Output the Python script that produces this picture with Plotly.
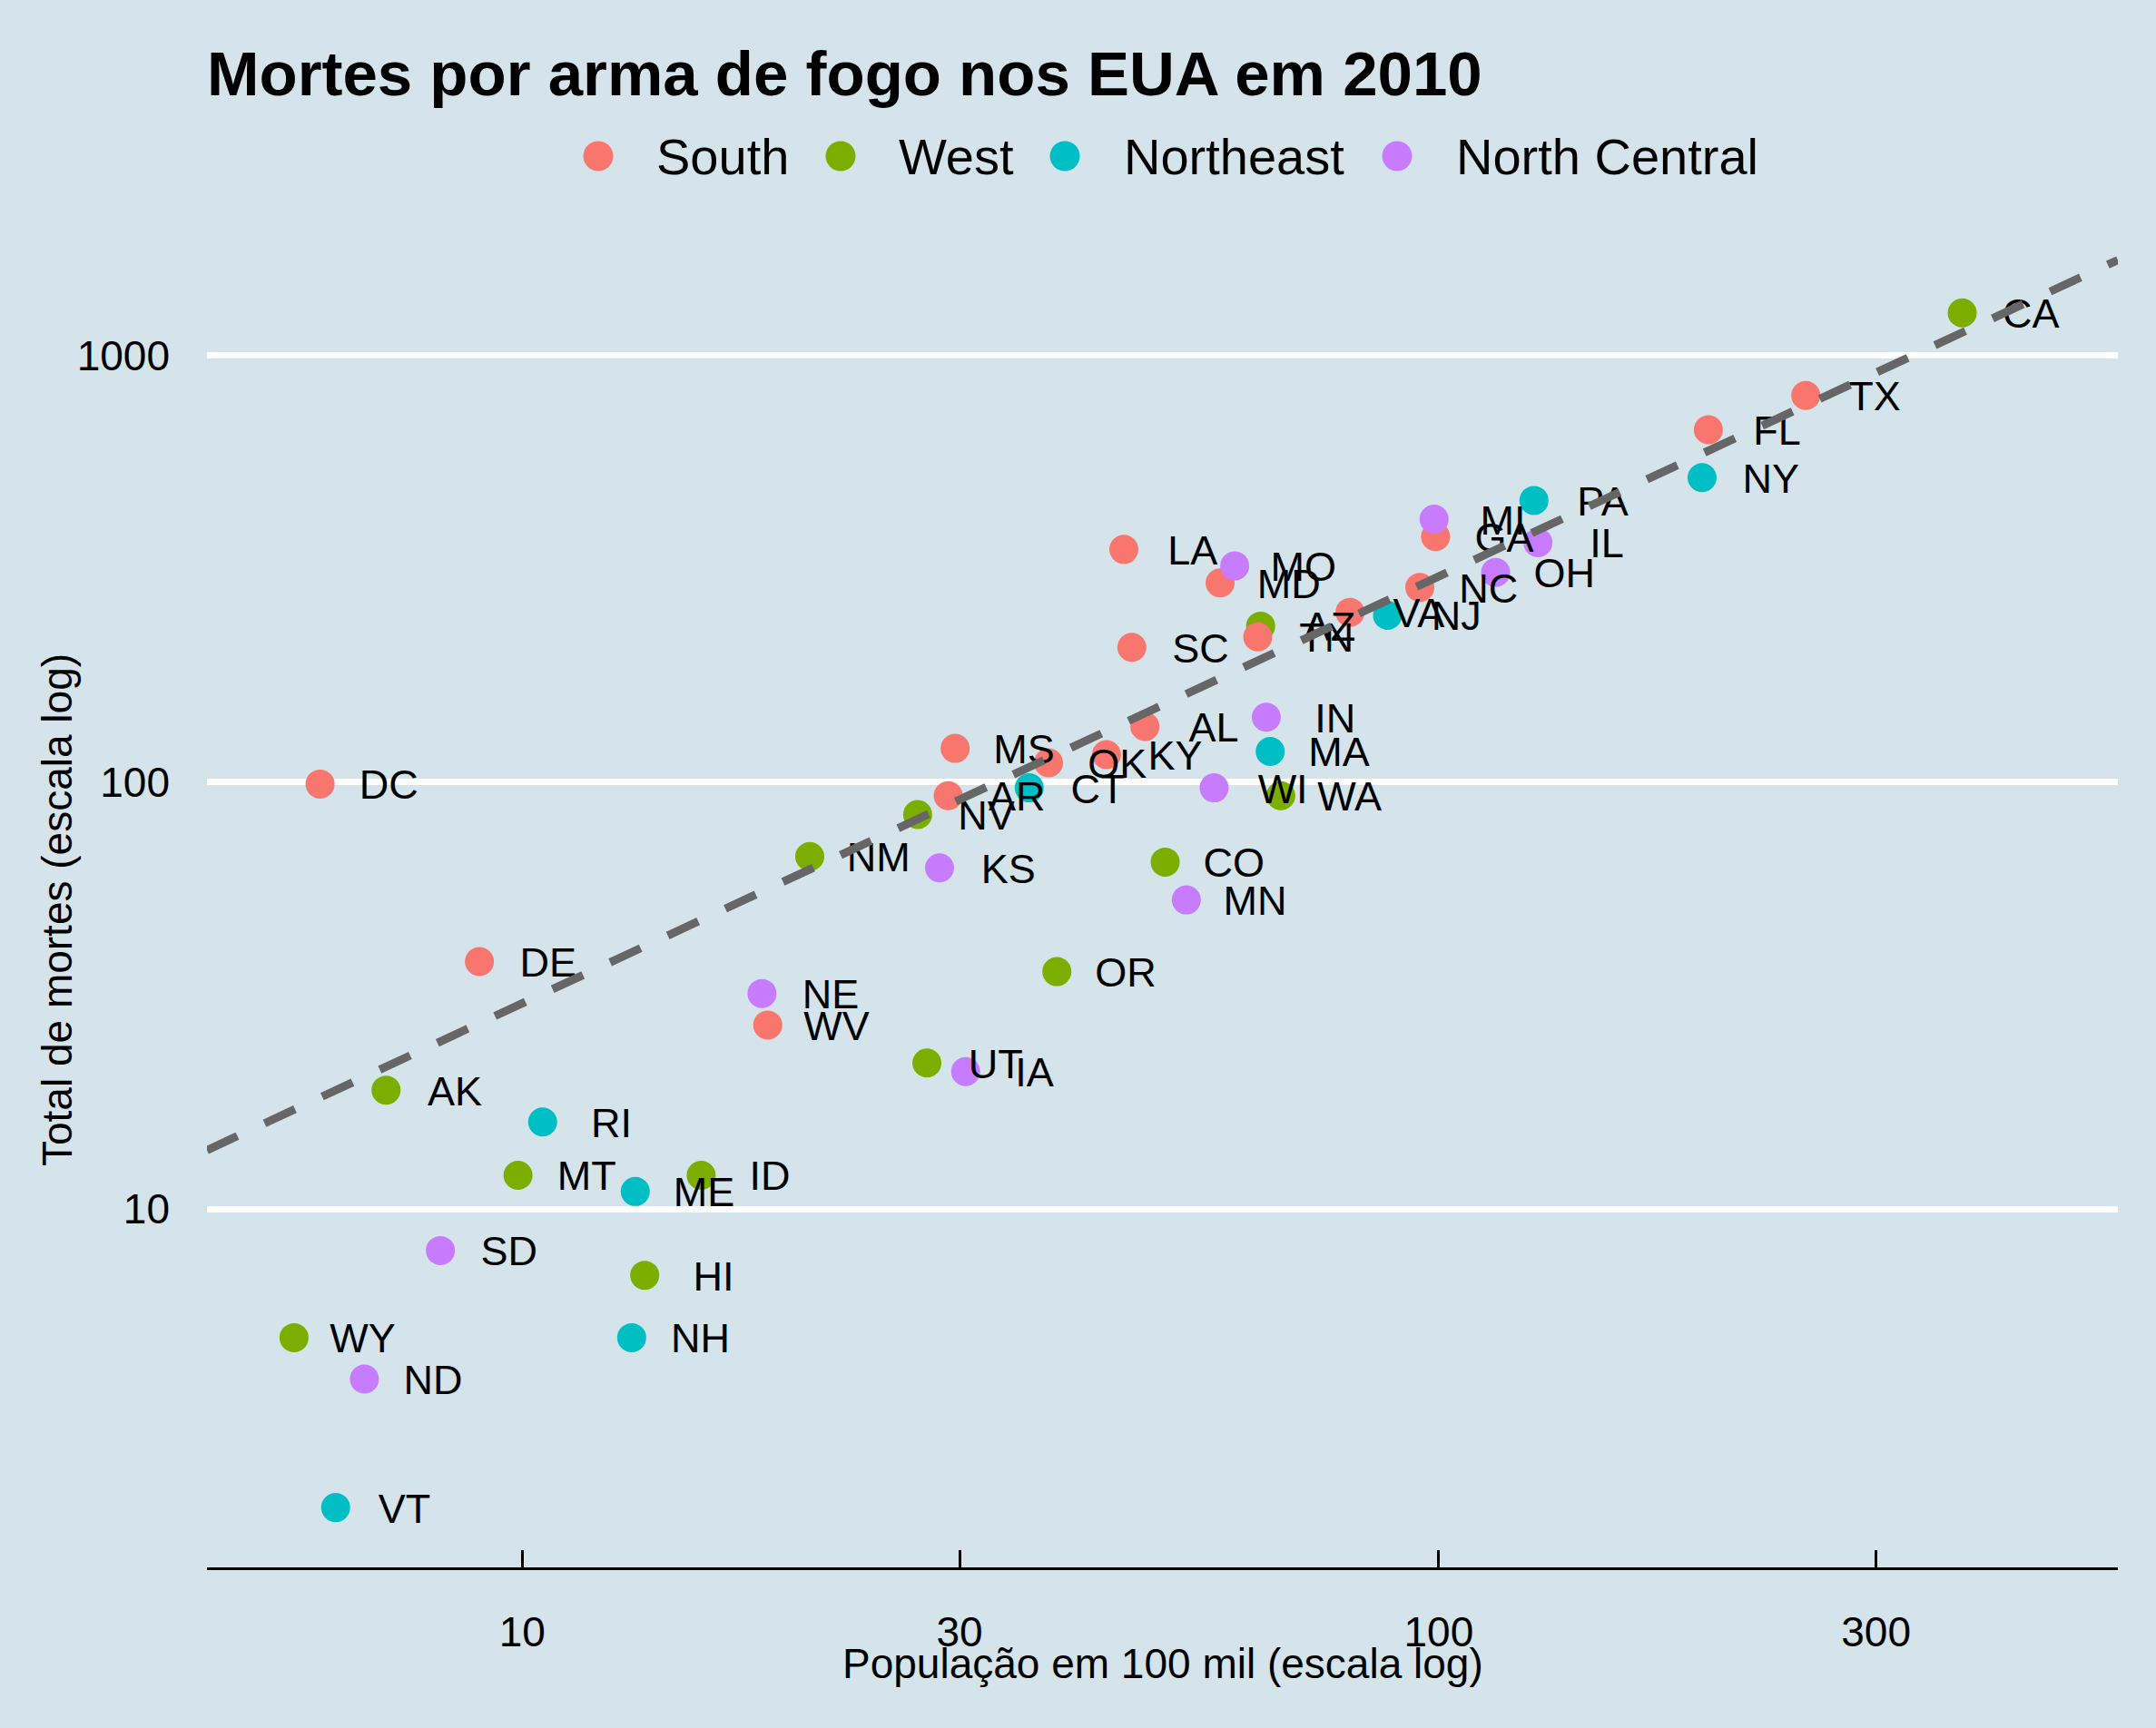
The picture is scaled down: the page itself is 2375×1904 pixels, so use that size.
import numpy as np
import plotly.graph_objects as go

# murders 2010 (dslabs), alphabetical by state
abb = ['AL', 'AK', 'AZ', 'AR', 'CA', 'CO', 'CT', 'DE', 'DC', 'FL', 'GA', 'HI', 'ID',
       'IL', 'IN', 'IA', 'KS', 'KY', 'LA', 'ME', 'MD', 'MA', 'MI', 'MN', 'MS', 'MO',
       'MT', 'NE', 'NV', 'NH', 'NJ', 'NM', 'NY', 'NC', 'ND', 'OH', 'OK', 'OR', 'PA',
       'RI', 'SC', 'SD', 'TN', 'TX', 'UT', 'VT', 'VA', 'WA', 'WV', 'WI', 'WY']
region = ['South', 'West', 'West', 'South', 'West', 'West', 'Northeast', 'South', 'South',
          'South', 'South', 'West', 'West', 'North Central', 'North Central', 'North Central',
          'North Central', 'South', 'South', 'Northeast', 'South', 'Northeast', 'North Central',
          'North Central', 'South', 'North Central', 'West', 'North Central', 'West', 'Northeast',
          'Northeast', 'West', 'Northeast', 'South', 'North Central', 'North Central', 'South',
          'West', 'Northeast', 'Northeast', 'South', 'North Central', 'South', 'South', 'West',
          'Northeast', 'South', 'West', 'South', 'North Central', 'West']
population = [4779736, 710231, 6392017, 2915918, 37253956, 5029196, 3574097, 897934, 601723,
              19687653, 9920000, 1360301, 1567582, 12830632, 6483802, 3046355, 2853118, 4339367,
              4533372, 1328361, 5773552, 6547629, 9883640, 5303925, 2967297, 5988927, 989415,
              1826341, 2700551, 1316470, 8791894, 2059179, 19378102, 9535483, 672591, 11536504,
              3751351, 3831074, 12702379, 1052567, 4625364, 814180, 6346105, 25145561, 2763885,
              625741, 8001024, 6724540, 1852994, 5686986, 563626]
total = [135, 19, 232, 93, 1257, 65, 97, 38, 99, 669, 376, 7, 12, 364, 142, 21, 63, 116, 351,
         11, 293, 118, 413, 53, 120, 321, 12, 32, 84, 5, 246, 67, 517, 286, 4, 310, 111, 36,
         457, 16, 207, 8, 219, 805, 22, 2, 250, 93, 27, 97, 5]

regions = ['South', 'West', 'Northeast', 'North Central']
colors = ['#F8766D', '#7CAE00', '#00BFC4', '#C77CFF']

bg = '#d5e4eb'
font_family = 'Liberation Sans, Arial, sans-serif'

x = np.array(population) / 1e5
y = np.array(total)
r = y.sum() / x.sum()  # average rate per 100 mil
color_map = dict(zip(regions, colors))
point_colors = [color_map[g] for g in region]

x_range = [0.656, 2.741]
y_range = [0.161, 3.239]
nudge_x = 0.075   # label offset in log10 units
nudge_y = -0.011  # small drop so the caps sit centred on the point

fig = go.Figure()

fig.add_trace(go.Scatter(x=x, y=y, mode='markers', showlegend=False,
                         marker=dict(size=32, color=point_colors, line=dict(width=0)),
                         text=abb, hoverinfo='text+x+y'))

fig.add_trace(go.Scatter(x=x * 10 ** nudge_x, y=y * 10 ** nudge_y, mode='text', text=abb,
                         showlegend=False, textposition='middle center', hoverinfo='skip',
                         textfont=dict(size=45, color='black', family=font_family)))

x_line = np.array([10 ** x_range[0], 10 ** x_range[1]])
fig.add_trace(go.Scatter(x=x_line, y=r * x_line, mode='lines', showlegend=False,
                         hoverinfo='skip',
                         line=dict(color='#666666', width=9, dash='37px,33px')))

# legend drawn by hand so the dots keep the point size
left, right, top, bottom = 228, 2333, 279, 1727
legend_dot_px = [659, 926, 1173, 1539]
legend_text_px = [721, 988, 1236, 1602]
legend_y = (bottom - 172) / (bottom - top)


def px_to_paper_x(px):
    return (px - left) / (right - left)


shapes = []
annotations = []
for g, c, dx, tx in zip(regions, colors, legend_dot_px, legend_text_px):
    shapes.append(dict(type='circle', xref='paper', yref='paper',
                       xsizemode='pixel', ysizemode='pixel',
                       xanchor=px_to_paper_x(dx), yanchor=legend_y,
                       x0=-16.5, x1=16.5, y0=-16.5, y1=16.5,
                       fillcolor=c, line=dict(width=0)))
    annotations.append(dict(text=g, xref='paper', yref='paper',
                            x=px_to_paper_x(tx), y=legend_y,
                            xanchor='left', yanchor='middle', showarrow=False,
                            font=dict(size=56, color='black', family=font_family)))

# axis titles
annotations.append(dict(text='População em 100 mil (escala log)', xref='paper', yref='paper',
                        x=0.5, y=(bottom - 1833) / (bottom - top),
                        xanchor='center', yanchor='middle', showarrow=False,
                        font=dict(size=46, color='black', family=font_family)))
annotations.append(dict(text='Total de mortes (escala log)', xref='paper', yref='paper',
                        x=px_to_paper_x(63), y=0.5, textangle=-90,
                        xanchor='center', yanchor='middle', showarrow=False,
                        font=dict(size=46, color='black', family=font_family)))

fig.update_layout(
    width=2375, height=1904,
    margin=dict(l=left, r=2375 - right, t=top, b=1904 - bottom),
    paper_bgcolor=bg, plot_bgcolor=bg,
    font=dict(family=font_family, color='black', size=46),
    title=dict(text='<b>Mortes por arma de fogo nos EUA em 2010</b>',
               x=0, xref='paper', xanchor='left',
               y=1 - 57 / 1904, yref='container', yanchor='top',
               font=dict(size=69, color='black', family=font_family)),
    shapes=shapes,
    annotations=annotations,
    showlegend=False,
)

fig.update_xaxes(
    type='log', range=x_range,
    tickvals=[10, 30, 100, 300], ticktext=['10', '30', '100', '300'],
    showgrid=False, zeroline=False,
    showline=True, linecolor='black', linewidth=3,
    ticks='inside', ticklen=19, tickwidth=3, tickcolor='black',
    ticklabelstandoff=29,
    tickfont=dict(size=46),
)

fig.update_yaxes(
    type='log', range=y_range,
    tickvals=[10, 100, 1000], ticktext=['10', '100', '1000'],
    showgrid=True, gridcolor='white', gridwidth=7,
    zeroline=False, showline=False, ticks='',
    ticklabelstandoff=40,
    tickfont=dict(size=46),
)

fig.write_html("out.html", config={'displayModeBar': False},
               post_script="document.body.style.margin='0';"
                           "document.body.style.background='" + bg + "';")
